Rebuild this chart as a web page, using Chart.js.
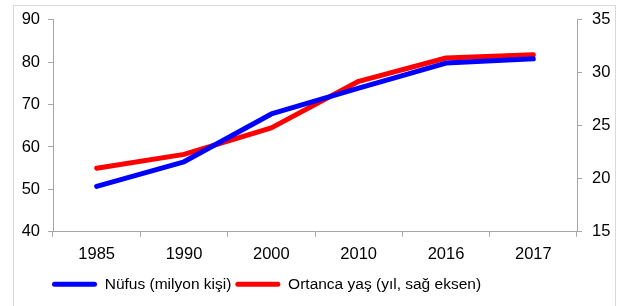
<!DOCTYPE html>
<html>
<head>
<meta charset="utf-8">
<script src="https://cdn.jsdelivr.net/npm/chart.js@4/dist/chart.umd.min.js"></script>
<style>
  html, body { margin: 0; padding: 0; background: #fff; }
  #wrap { position: relative; width: 630px; height: 306px; }
  #frame { position: absolute; left: 13px; top: 5px; width: 603px; height: 310px; border: 1px solid #d9d9d9; box-sizing: border-box; }
  canvas { position: absolute; left: 0; top: 0; }
</style>
</head>
<body>
<div id="wrap">
  <div id="frame"></div>
  <canvas id="chart" width="630" height="306"></canvas>
</div>
<script>
// Nüfus ve ortanca yaş

const years = ['1985', '1990', '2000', '2010', '2016', '2017'];
const population = [50.7, 56.5, 67.8, 73.9, 79.8, 80.8];   // milyon kişi
const medianAge = [21.0, 22.3, 24.8, 29.2, 31.4, 31.7];    // yıl, sağ eksen

const leftTicks = [40, 50, 60, 70, 80, 90];
const rightTicks = [15, 20, 25, 30, 35];

const axisColor = '#a6a6a6';
const font = { family: 'Liberation Sans, Arial, sans-serif', size: 16.5 };
const legendFont = { family: 'Liberation Sans, Arial, sans-serif', size: 15.5 };

Chart.defaults.font = font;
Chart.defaults.color = '#000';

// legend sits left of centre in the original
const legendShift = {
  id: 'legendShift',
  afterLayout(chart){ if (chart.legend) chart.legend.left = 48; }
};

new Chart(document.getElementById('chart').getContext('2d'), {
  type: 'line',
  data: {
    labels: years,
    datasets: [
      { label: 'Nüfus (milyon kişi)', data: population, yAxisID: 'y',
        borderColor: '#0000ff', backgroundColor: '#0000ff', borderWidth: 5,
        borderCapStyle: 'round', borderJoinStyle: 'round', pointRadius: 0, tension: 0, clip: false },
      { label: 'Ortanca yaş (yıl, sağ eksen)', data: medianAge, yAxisID: 'y1',
        borderColor: '#ff0000', backgroundColor: '#ff0000', borderWidth: 5,
        borderCapStyle: 'round', borderJoinStyle: 'round', pointRadius: 0, tension: 0, clip: false }
    ]
  },
  options: {
    responsive: false,
    animation: false,
    layout: { padding: { left: 4, right: 14, top: 19, bottom: 4 } },
    plugins: {
      tooltip: { enabled: false },
      legend: {
        position: 'bottom',
        align: 'start',
        labels: {
          boxWidth: 45, boxHeight: 5, useBorderRadius: true, borderRadius: 2.5, padding: 4, font: legendFont,
          generateLabels: (chart) => Chart.defaults.plugins.legend.labels.generateLabels(chart)
            .map(l => Object.assign(l, { lineWidth: 0 }))
        }
      }
    },
    scales: {
      x: {
        offset: true,
        grid: { display: true, drawOnChartArea: false, offset: true, color: axisColor, tickLength: 5, tickColor: axisColor },
        border: { color: axisColor, width: 1 },
        ticks: { padding: 8, font }
      },
      y: {
        position: 'left', min: 40, max: 90,
        afterBuildTicks: (ax) => { ax.ticks = leftTicks.map(v => ({ value: v })); },
        grid: { display: true, drawOnChartArea: false, color: axisColor, tickLength: 5 },
        border: { color: axisColor, width: 1 },
        ticks: { padding: 8, font },
        afterFit: (ax) => { ax.width = 49; }
      },
      y1: {
        position: 'right', min: 15, max: 35,
        afterBuildTicks: (ax) => { ax.ticks = rightTicks.map(v => ({ value: v })); },
        grid: { display: true, drawOnChartArea: false, color: axisColor, tickLength: 5 },
        border: { color: axisColor, width: 1 },
        ticks: { padding: 10, font },
        afterFit: (ax) => { ax.width = 39; }
      }
    }
  },
  plugins: [legendShift]
});
</script>
</body>
</html>
